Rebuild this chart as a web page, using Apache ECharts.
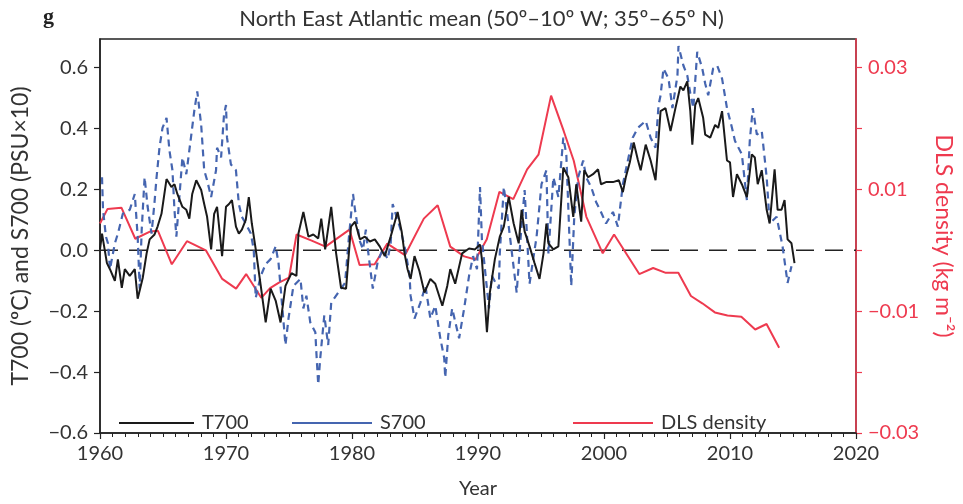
<!DOCTYPE html>
<html>
<head>
<meta charset="utf-8">
<script src="https://cdn.jsdelivr.net/npm/echarts@6/dist/echarts.min.js"></script>
<style>html,body{margin:0;padding:0;background:#fff}#c{width:963px;height:504px}</style>
</head>
<body>
<div id="c"></div>
<script>
// [year, value] pairs
var t700 = [[1960.0,0.003],[1960.16,0.055],[1960.55,-0.042],[1960.79,-0.062],[1961.18,-0.10],[1961.42,-0.03],[1961.73,-0.123],[1961.97,-0.062],[1962.36,-0.084],[1962.76,-0.062],[1962.99,-0.159],[1963.39,-0.091],[1963.70,-0.01],[1963.94,0.036],[1964.33,0.052],[1964.57,0.078],[1964.88,0.12],[1965.28,0.234],[1965.67,0.208],[1965.91,0.217],[1966.14,0.185],[1966.54,0.143],[1966.85,0.133],[1967.09,0.104],[1967.32,0.185],[1967.64,0.23],[1968.03,0.198],[1968.27,0.152],[1968.50,0.11],[1968.82,0.003],[1969.06,0.12],[1969.29,0.143],[1969.69,-0.019],[1970.0,0.143],[1970.24,0.152],[1970.47,0.165],[1970.79,0.078],[1971.02,0.055],[1971.26,0.068],[1971.57,0.10],[1971.81,0.175],[1972.05,0.088],[1972.36,0.003],[1972.76,-0.117],[1973.15,-0.237],[1973.54,-0.126],[1973.94,-0.165],[1974.33,-0.237],[1974.72,-0.117],[1975.20,-0.075],[1975.59,-0.084],[1975.75,0.055],[1976.14,0.126],[1976.54,0.045],[1976.93,0.052],[1977.32,0.039],[1977.56,0.104],[1977.87,0.003],[1978.35,0.143],[1978.74,-0.01],[1979.13,-0.123],[1979.53,-0.126],[1979.92,0.078],[1980.24,0.094],[1980.63,0.036],[1981.02,0.045],[1981.42,0.029],[1981.81,0.036],[1982.20,0.013],[1982.60,-0.019],[1983.07,0.045],[1983.62,0.126],[1983.94,0.062],[1984.17,-0.01],[1984.41,-0.062],[1984.65,-0.094],[1984.96,-0.019],[1985.35,-0.068],[1985.75,-0.139],[1986.22,-0.094],[1986.61,-0.11],[1987.17,-0.182],[1987.56,-0.117],[1987.80,-0.062],[1988.19,-0.11],[1988.74,-0.01],[1989.29,0.006],[1989.76,0.003],[1990.16,0.019],[1990.31,-0.029],[1990.71,-0.269],[1990.94,-0.139],[1991.34,-0.029],[1991.73,0.045],[1992.05,0.078],[1992.44,0.175],[1992.83,0.088],[1993.23,0.023],[1993.46,0.133],[1993.70,0.062],[1994.09,0.013],[1994.49,-0.042],[1994.88,-0.094],[1995.20,-0.01],[1995.43,0.088],[1995.59,0.023],[1995.98,0.003],[1996.38,0.013],[1996.77,0.272],[1997.17,0.24],[1997.56,0.11],[1997.80,0.217],[1998.19,0.094],[1998.43,0.263],[1998.74,0.24],[1999.13,0.25],[1999.53,0.266],[1999.76,0.217],[2000.16,0.224],[2000.71,0.224],[2001.18,0.23],[2001.50,0.191],[2001.73,0.24],[2002.05,0.289],[2002.36,0.354],[2002.68,0.298],[2002.91,0.263],[2003.31,0.347],[2003.70,0.295],[2004.09,0.23],[2004.49,0.457],[2004.88,0.467],[2005.28,0.392],[2005.67,0.467],[2006.06,0.538],[2006.30,0.525],[2006.61,0.555],[2006.85,0.457],[2007.01,0.347],[2007.24,0.477],[2007.48,0.50],[2007.87,0.435],[2008.03,0.38],[2008.43,0.37],[2008.82,0.412],[2009.06,0.402],[2009.37,0.457],[2009.76,0.295],[2010.0,0.289],[2010.24,0.175],[2010.55,0.25],[2010.94,0.217],[2011.34,0.175],[2011.73,0.315],[2011.97,0.305],[2012.20,0.217],[2012.52,0.263],[2012.91,0.133],[2013.15,0.088],[2013.54,0.266],[2013.78,0.133],[2014.09,0.133],[2014.33,0.165],[2014.57,0.036],[2014.88,0.023],[2015.12,-0.042]];

var s700 = [[1960.16,0.24],[1960.24,0.133],[1960.47,0.045],[1960.63,0.023],[1960.79,-0.062],[1961.18,0.023],[1961.42,0.055],[1961.81,0.12],[1962.36,0.133],[1962.76,0.185],[1962.99,0.045],[1963.15,-0.126],[1963.31,0.068],[1963.54,0.24],[1963.78,0.143],[1964.09,0.055],[1964.33,0.159],[1964.49,0.24],[1964.72,0.337],[1964.96,0.402],[1965.28,0.435],[1965.51,0.328],[1965.75,0.263],[1965.91,0.133],[1966.06,0.045],[1966.30,0.175],[1966.54,0.305],[1966.85,0.25],[1967.09,0.328],[1967.48,0.457],[1967.72,0.522],[1968.03,0.412],[1968.27,0.263],[1968.50,0.23],[1968.82,0.175],[1969.21,0.263],[1969.29,0.337],[1969.61,0.305],[1969.84,0.444],[1970.0,0.477],[1970.08,0.37],[1970.39,0.282],[1970.79,0.263],[1971.02,0.152],[1971.26,0.11],[1971.57,0.088],[1971.97,0.055],[1972.20,0.003],[1972.36,-0.156],[1972.76,-0.084],[1973.15,-0.045],[1973.54,-0.029],[1973.94,0.013],[1974.17,-0.042],[1974.57,-0.237],[1974.72,-0.311],[1974.96,-0.224],[1975.35,-0.117],[1975.91,-0.094],[1976.14,-0.191],[1976.38,-0.149],[1976.69,-0.237],[1977.09,-0.269],[1977.17,-0.334],[1977.32,-0.441],[1977.48,-0.354],[1977.80,-0.214],[1978.11,-0.311],[1978.35,-0.172],[1978.74,-0.149],[1979.13,-0.126],[1979.45,-0.107],[1979.76,0.045],[1980.08,0.185],[1980.24,0.133],[1980.63,0.029],[1980.87,0.003],[1981.10,0.068],[1981.26,0.003],[1981.65,-0.126],[1982.05,-0.036],[1982.44,0.003],[1982.83,-0.029],[1983.07,0.023],[1983.23,0.152],[1983.46,0.12],[1983.86,0.068],[1984.25,-0.003],[1984.57,-0.084],[1984.65,-0.149],[1984.96,-0.224],[1985.43,-0.172],[1985.83,-0.117],[1986.22,-0.224],[1986.61,-0.182],[1987.01,-0.289],[1987.32,-0.354],[1987.40,-0.418],[1987.64,-0.279],[1987.95,-0.191],[1988.50,-0.289],[1988.90,-0.191],[1989.29,-0.084],[1989.61,-0.019],[1989.92,-0.062],[1990.16,0.208],[1990.31,0.036],[1990.87,-0.191],[1991.10,-0.084],[1991.65,-0.126],[1991.73,-0.01],[1992.05,0.208],[1992.44,0.078],[1993.07,-0.139],[1993.39,0.045],[1993.70,0.198],[1994.09,-0.11],[1994.65,0.045],[1995.04,0.217],[1995.43,0.263],[1995.59,-0.01],[1995.98,0.24],[1996.38,0.175],[1996.77,0.37],[1997.01,0.315],[1997.40,-0.117],[1997.64,0.11],[1997.95,0.24],[1998.35,0.295],[1998.58,0.24],[1998.98,0.208],[1999.37,0.159],[1999.76,0.126],[2000.16,0.088],[2000.71,0.126],[2001.10,0.078],[2001.50,0.217],[2001.73,0.263],[2002.28,0.37],[2002.68,0.402],[2003.31,0.425],[2003.70,0.37],[2004.09,0.337],[2004.33,0.477],[2004.49,0.509],[2004.72,0.597],[2005.12,0.564],[2005.43,0.467],[2005.83,0.574],[2005.91,0.671],[2006.30,0.607],[2006.61,0.574],[2006.85,0.516],[2007.09,0.467],[2007.40,0.652],[2007.80,0.597],[2008.03,0.548],[2008.27,0.509],[2008.66,0.597],[2008.98,0.607],[2009.37,0.564],[2009.76,0.467],[2010.16,0.402],[2010.39,0.36],[2010.94,0.315],[2011.34,0.165],[2011.57,0.36],[2011.81,0.467],[2012.13,0.38],[2012.52,0.392],[2012.91,0.24],[2013.15,0.088],[2013.70,0.11],[2014.17,0.013],[2014.57,-0.107],[2014.88,-0.052]];

var dls = [[1960.0,0.0044],[1960.6,0.0068],[1961.7,0.0070],[1962.8,0.0019],[1964.0,0.0031],[1964.6,0.0032],[1965.7,-0.0023],[1966.9,0.0015],[1968.4,0.0],[1969.7,-0.0047],[1970.8,-0.0063],[1971.6,-0.0039],[1972.8,-0.0078],[1973.5,-0.0062],[1974.2,-0.0053],[1975.0,-0.0045],[1975.6,0.0026],[1976.8,0.0016],[1977.9,0.0006],[1979.8,0.0034],[1980.6,-0.0024],[1981.8,-0.0023],[1982.8,0.0011],[1984.2,-0.0008],[1985.7,0.0052],[1986.8,0.0074],[1987.8,0.0006],[1988.9,-0.001],[1989.8,-0.0015],[1990.7,0.0018],[1991.7,0.0096],[1992.8,0.0084],[1993.9,0.0133],[1994.8,0.0157],[1995.8,0.0254],[1996.8,0.0196],[1997.6,0.0147],[1998.6,0.0055],[1999.9,-0.0005],[2000.8,0.0026],[2002.8,-0.0039],[2003.9,-0.0029],[2004.9,-0.0037],[2005.9,-0.0037],[2006.9,-0.0075],[2007.8,-0.0087],[2008.8,-0.0102],[2009.8,-0.0107],[2010.9,-0.0109],[2012.0,-0.013],[2012.9,-0.0121],[2013.9,-0.016]];

var xRange = [1960, 2020];
var zeroLine = [[xRange[0], 0], [xRange[1], 0]];
var leftTicks = [-0.6,-0.4,-0.2,0.0,0.2,0.4,0.6];
var rightLabels = [-0.03,-0.01,0.01,0.03];
var rightTicks = [-0.03,-0.02,-0.01,0.0,0.01,0.02,0.03];
var seriesNames = ['T700','S700','DLS density'];

var FONT = 'Lato';
var TXT = '#333333';
var RED = '#ee3a4f';
var BLUE = '#4565b0';
var BLACK = '#1a1a1a';
function minus(s){ return s.replace('-', '\u2212'); }
function legendAt(name, left, w){
  return {data: [name], left: left, top: 408, icon: 'rect', itemWidth: w, itemHeight: 2, itemGap: 0,
          textStyle: {fontFamily: FONT, fontSize: 20, color: TXT, padding: [0,0,0,3]}};
}

var chart = echarts.init(document.getElementById('c'), null, {renderer:'canvas'});
chart.setOption({
  animation: false,
  backgroundColor: '#ffffff',
  title: [
    {text: 'North East Atlantic mean (50\u00ba\u201310\u00ba W; 35\u00ba\u201365\u00ba N)', left: 'center', top: 3,
     textStyle: {fontFamily: FONT, fontSize: 22, fontWeight: 'normal', color: TXT}},
    {text: 'g', left: 38, top: 1, textStyle: {fontFamily: 'Liberation Serif', fontSize: 22, fontWeight: 'bold', color: '#222'}}
  ],
  legend: [legendAt(seriesNames[0], 114, 75), legendAt(seriesNames[1], 287, 80), legendAt(seriesNames[2], 568, 80)],
  grid: {left: 100, right: 101, top: 39, bottom: 66, show: true, borderColor: '#222', borderWidth: 1.5, backgroundColor: 'transparent'},
  xAxis: {
    type: 'value', min: xRange[0], max: xRange[1], interval: 10,
    name: 'Year', nameLocation: 'middle', nameGap: 46,
    nameTextStyle: {fontFamily: FONT, fontSize: 20, color: TXT},
    axisLine: {onZero: false, lineStyle: {color: '#222', width: 1.5}},
    axisTick: {show: true, length: 6, lineStyle: {color: '#222', width: 1.2}},
    minorTick: {show: true, splitNumber: 10, length: 4, lineStyle: {color: '#222', width: 1}},
    splitLine: {show: false}, minorSplitLine: {show: false},
    axisLabel: {fontFamily: FONT, fontSize: 20, color: TXT, margin: 11, formatter: function(v){ return String(v); }}
  },
  yAxis: [
    {
      type: 'value', min: -0.6, max: 0.694,
      name: 'T700 (\u00baC) and S700 (PSU\u00d710)', nameLocation: 'middle', nameGap: 68,
      nameTextStyle: {fontFamily: FONT, fontSize: 23, color: TXT},
      axisLine: {show: true, onZero: false, lineStyle: {color: '#222', width: 1.5}},
      axisTick: {show: true, length: 6, customValues: leftTicks, lineStyle: {color: '#222', width: 1.2}},
      splitLine: {show: false},
      axisLabel: {customValues: leftTicks, fontFamily: FONT, fontSize: 20, color: TXT, margin: 12,
        formatter: function(v){ return minus(v.toFixed(1)); }}
    },
    {
      type: 'value', min: -0.03, max: 0.0347, position: 'right',
      name: 'DLS density (kg m\u207b\u00b2)', nameLocation: 'middle', nameGap: 76, nameRotate: -90,
      nameTextStyle: {fontFamily: FONT, fontSize: 23, color: RED},
      axisLine: {show: true, onZero: false, lineStyle: {color: RED, width: 1.5}},
      axisTick: {show: true, length: 6, customValues: rightTicks, lineStyle: {color: RED, width: 1.2}},
      splitLine: {show: false},
      axisLabel: {customValues: rightLabels, fontFamily: FONT, fontSize: 20, color: RED, margin: 12,
        formatter: function(v){ return minus(v.toFixed(2)); }}
    }
  ],
  series: [
    {name: 'zero', type: 'line', yAxisIndex: 0, data: zeroLine, symbol: 'none', silent: true,
     lineStyle: {color: '#222', width: 1.5, type: [18, 11]}, z: 1},
    {name: seriesNames[2], type: 'line', yAxisIndex: 1, data: dls, symbol: 'none',
     lineStyle: {color: RED, width: 2}, itemStyle: {color: RED}, z: 2},
    {name: seriesNames[1], type: 'line', yAxisIndex: 0, data: s700, symbol: 'none',
     lineStyle: {color: BLUE, width: 2.2, type: [7, 5]}, itemStyle: {color: BLUE}, z: 3},
    {name: seriesNames[0], type: 'line', yAxisIndex: 0, data: t700, symbol: 'none',
     lineStyle: {color: BLACK, width: 2}, itemStyle: {color: BLACK}, z: 4}
  ]
});
</script>
</body>
</html>
